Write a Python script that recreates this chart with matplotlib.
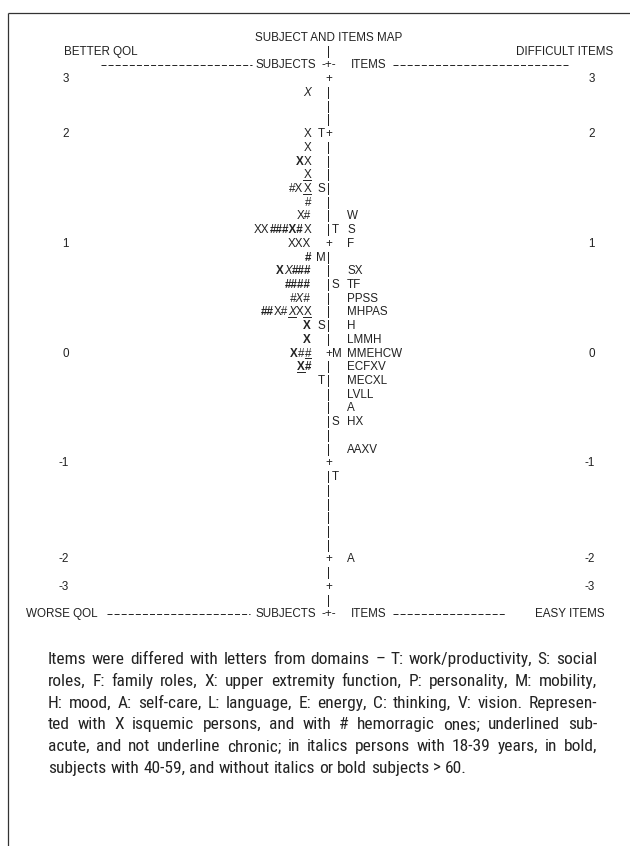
import matplotlib
matplotlib.use("Agg")
import matplotlib.pyplot as plt
from matplotlib import font_manager
from matplotlib.font_manager import FontProperties

## text map of subjects (left) and items (right) on one logit ruler, one text row per step
logit_labels = ["3", "2", "1", "0", "-1", "-2", "-3"]
logit_rows = [0, 4, 12, 20, 28, 35, 37]

# subjects: pieces of (chars, style)  b = bold, i = italic, u = underlined
subject_rows = [1, 4, 5, 6, 7, 8, 9, 10, 11, 12, 13, 14, 15, 16, 17, 18, 19, 20, 21]
subject_pieces = [
    [("X", "i")],
    [("X", "")],
    [("X", "")],
    [("X", "b"), ("X", "")],
    [("X", "u")],
    [("#X", ""), ("X", "u")],
    [("#", "")],
    [("X#", "")],
    [("XX", ""), ("###X#", "b"), ("X", "")],
    [("XXX", "")],
    [("#", "b")],
    [("X", "b"), ("X", "i"), ("###", "b")],
    [("####", "b")],
    [("#X#", "i")],
    [("##", "b"), ("X#", ""), ("X", "iu"), ("X", ""), ("X", "u")],
    [("X", "b")],
    [("X", "b")],
    [("X", "b"), ("#", ""), ("#", "u")],
    [("X", "bu"), ("#", "b")],
]

subj_mark_rows = [4, 8, 13, 18, 22]
subj_mark_text = ["T", "S", "M", "S", "T"]
item_mark_rows = [11, 15, 20, 25, 29]
item_mark_text = ["T", "S", "M", "S", "T"]

item_rows = [10, 11, 12, 14, 15, 16, 17, 18, 19, 20, 21, 22, 23, 24, 25, 27, 35]
item_text = ["W", "S", "F", "SX", "TF", "PPSS", "MHPAS", "H", "LMMH", "MMEHCW",
             "ECFXV", "MECXL", "LVLL", "A", "HX", "AAXV", "A"]

caption = [
    "Items were differed with letters from domains \u2013 T: work/productivity, S: social",
    "roles, F: family roles, X: upper extremity function, P: personality, M: mobility,",
    "H: mood, A: self-care, L: language, E: energy, C: thinking, V: vision. Represen-",
    "ted with X isquemic persons, and with # hemorragic ones; underlined sub-",
    "acute, and not underline chronic; in italics persons with 18-39 years, in bold,",
    "subjects with 40-59, and without italics or bold subjects > 60.",
]

INK = "#222222"
W, H = 630, 846
ROW_PX = 13.72          # pixels per text row
ROW0_Y = 78             # pixel y of row 0
AXIS_X = 329
SUBJ_RIGHT = 311
ITEM_LEFT = 347

plt.rcParams["lines.scale_dashes"] = False


def pick(family, backup):
    try:
        font_manager.findfont(FontProperties(family=family), fallback_to_default=False)
        return family
    except Exception:
        return backup


def narrow_font():
    # look for any installed condensed / narrow regular face
    prefs = ["LiberationSansNarrow-Regular", "RobotoCondensed-Regular", "Roboto Condensed",
             "OpenSans_Condensed-Regular", "OpenSansCondensed", "NotoSans-CondensedRegular",
             "NotoSans-Condensed", "DejaVuSansCondensed.ttf"]
    files = [f.fname for f in font_manager.fontManager.ttflist]
    for p in prefs:
        for f in files:
            if p.lower().replace(" ", "") in f.lower().replace(" ", "") and "italic" not in f.lower() \
                    and "bold" not in f.lower() and "light" not in f.lower():
                return f
    for f in files:
        low = f.lower()
        if ("narrow" in low or "condensed" in low) and not any(
                k in low for k in ["italic", "bold", "light", "thin", "black", "medium", "semi", "extra", "oblique"]):
            return f
    return None


MAP_FONT = pick("Liberation Sans", "DejaVu Sans")
CAP_FILE = narrow_font()

fs = 8.4
props = {
    "": FontProperties(family=MAP_FONT, size=fs),
    "b": FontProperties(family=MAP_FONT, size=fs, weight="bold"),
    "i": FontProperties(family=MAP_FONT, size=fs, style="italic"),
    "u": FontProperties(family=MAP_FONT, size=fs),
    "bu": FontProperties(family=MAP_FONT, size=fs, weight="bold"),
    "iu": FontProperties(family=MAP_FONT, size=fs, style="italic"),
}

fig = plt.figure(figsize=(W / 100, H / 100), dpi=100)
renderer = fig.canvas.get_renderer()


def measure(s, prop):
    return renderer.get_text_width_height_descent(s, prop, ismath=False)[0]


def cap_props(size):
    if CAP_FILE:
        return FontProperties(fname=CAP_FILE, size=size)
    return FontProperties(family=MAP_FONT, size=size)


# size the caption so its widest full line nearly fills the column
CAP_L, CAP_R = 48, 597
widest = max(measure(s, cap_props(12)) for s in caption[:-1])
cap_size = min(12.5, 12 * (CAP_R - CAP_L) * 0.985 / widest)
cap_prop = cap_props(cap_size)

# pixel axes for frame and caption
ax = fig.add_axes([0, 0, 1, 1])
ax.set_xlim(0, W)
ax.set_ylim(H, 0)
ax.axis("off")

# map axes: x in pixels, y in text rows
r_top, r_bot = -5, 41
top_px = ROW0_Y + r_top * ROW_PX
bot_px = ROW0_Y + r_bot * ROW_PX
axm = fig.add_axes([0, 1 - bot_px / H, 1, (bot_px - top_px) / H])
axm.set_xlim(0, W)
axm.set_ylim(r_bot, r_top)
axm.axis("off")

BASE = 4.2 / ROW_PX     # baseline below row centre
UL = 6.0 / ROW_PX       # underline below row centre

ax.plot([8, W], [13, 13], color="#333333", lw=0.9, solid_capstyle="butt")
ax.plot([8, 8], [13, H], color="#333333", lw=0.9, solid_capstyle="butt")


def put(x, row, s, ha="left", st=""):
    axm.text(x, row + BASE, s, fontproperties=props[st], ha=ha, va="baseline", color=INK)


# headers
put(AXIS_X, -3, "SUBJECT AND ITEMS MAP", ha="center")
put(64, -2, "BETTER QOL")
put(613, -2, "DIFFICULT ITEMS", ha="right")
put(26, 39, "WORSE QOL")
put(605, 39, "EASY ITEMS", ha="right")
for row, lx0, lx1, rx1 in [(-1, 101, 252, 569), (39, 107, 250, 506)]:
    axm.plot([lx0, lx1], [row + 0.05, row + 0.05], color=INK, lw=0.7, dashes=(3.6, 1.5))
    axm.plot([393, rx1], [row + 0.05, row + 0.05], color=INK, lw=0.7, dashes=(3.6, 1.5))
    put(316, row, "SUBJECTS", ha="right")
    put(AXIS_X, row, "-+-", ha="center")
    put(351, row, "ITEMS")

# ruler
for row in range(-2, 39):
    if row == -1:
        continue
    put(AXIS_X, row, "+" if row in logit_rows else "|", ha="center")
for lab, row in zip(logit_labels, logit_rows):
    put(69, row, lab, ha="right")
    put(595, row, lab, ha="right")

# subjects, right aligned against the ruler
for row, pieces in zip(subject_rows, subject_pieces):
    widths = [measure(t, props[st]) for t, st in pieces]
    x = SUBJ_RIGHT - sum(widths)
    for (t, st), w in zip(pieces, widths):
        put(x, row, t, st=st)
        if "u" in st:
            axm.plot([x, x + w], [row + UL, row + UL], color=INK, lw=0.7)
        x += w

for row, t in zip(subj_mark_rows, subj_mark_text):
    put(321, row, t, ha="center")
for row, t in zip(item_mark_rows, item_mark_text):
    put(332, row, t)
for row, t in zip(item_rows, item_text):
    put(ITEM_LEFT, row, t)

# caption, justified
cap_y0, cap_dy = 664, 21.8     # baselines
space_w = measure("a a", cap_prop) - measure("aa", cap_prop)
for k, line in enumerate(caption):
    words = line.split(" ")
    ws = [measure(wd, cap_prop) for wd in words]
    if k < len(caption) - 1:
        gap = (CAP_R - CAP_L - sum(ws)) / (len(words) - 1)
    else:
        gap = space_w
    x = CAP_L
    y = cap_y0 + k * cap_dy
    for wd, wdw in zip(words, ws):
        ax.text(x, y, wd, fontproperties=cap_prop, ha="left", va="baseline", color=INK)
        x += wdw + gap

fig.savefig("out.png", dpi=100)
